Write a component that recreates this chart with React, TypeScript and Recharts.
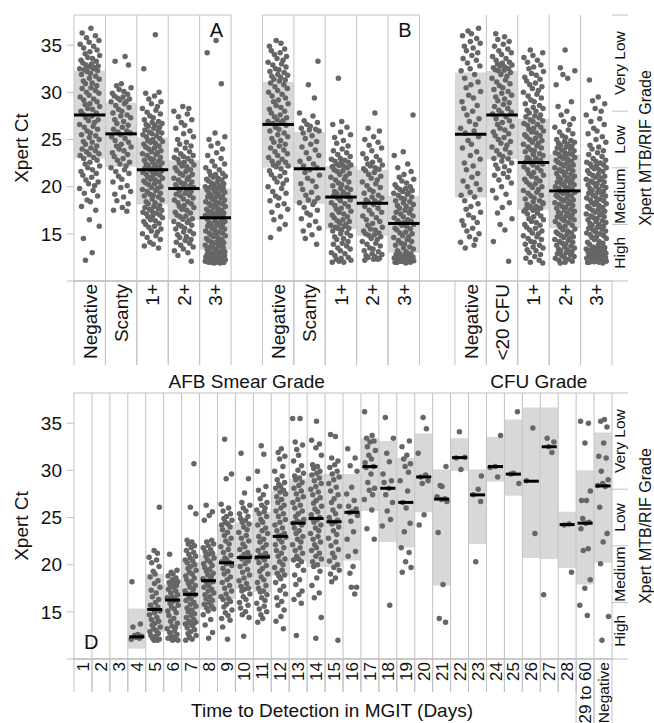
import { ScatterChart, Scatter, XAxis, YAxis, ReferenceArea, ReferenceLine } from 'recharts'

const FONT = '"Liberation Sans", Arial, Helvetica, sans-serif'
const INK = '#111'
const DOT = '#666'
const IQR = '#d8d8d8'
const RULE = '#c2c2c2'

// value axis and Xpert grade bands
const CT_DOMAIN: [number, number] = [10, 38.2]
const CT_TICKS = [15, 20, 25, 30, 35]
const GRADE_BANDS = ['High', 'Medium', 'Low', 'Very Low']
const GRADE_MIDS = [13, 19, 25, 33.1]
const GRADE_CUTS = [16, 22, 28]

// categories
const SMEAR_GRADES = ['Negative', 'Scanty', '1+', '2+', '3+']
const CFU_GRADES = ['Negative', '<20 CFU', '1+', '2+', '3+']
const DAYS = ['1', '2', '3', '4', '5', '6', '7', '8', '9', '10', '11', '12', '13', '14', '15', '16', '17', '18', '19', '20', '21', '22', '23', '24', '25', '26', '27', '28', '29 to 60', 'Negative']

// panel A: AFB smear grade (cohort 1)
const A_Q1 = [23.0, 22.1, 18.1, 16.5, 13.3]
const A_MED = [27.6, 25.6, 21.8, 19.8, 16.7]
const A_Q3 = [32.3, 28.9, 25.2, 22.8, 19.8]
const A_CT = [
  '36.8 36.3 36.0 35.8 35.5 35.3 35.1 34.9 34.7 34.5 34.3 34.1 33.9 33.7 33.6 33.4 33.3 33.1 33.0 32.9 32.8 32.7 32.6 32.5 32.5 32.4 32.3 32.2 32.0 31.9 31.7 31.5 31.4 31.2 31.0 30.9 30.7 30.5 30.4 30.2 30.0 29.9 29.7 29.5 29.3 29.2 29.0 28.8 28.7 28.5 28.3 28.2 28.0 27.8 27.7 27.5 27.3 27.1 27.0 26.8 26.6 26.4 26.3 26.1 25.9 25.7 25.5 25.4 25.2 25.0 24.8 24.7 24.5 24.3 24.1 24.0 23.8 23.7 23.5 23.4 23.3 23.1 23.0 22.8 22.6 22.4 22.2 22.0 21.8 21.6 21.4 21.2 21.0 20.7 20.5 20.3 20.1 19.8 19.6 19.3 19.0 18.6 18.4 17.9 17.5 16.5 15.8 14.5 13.0 12.2',
  '33.8 33.3 32.9 30.9 30.7 30.5 30.3 30.1 29.9 29.8 29.6 29.5 29.4 29.3 29.2 29.0 29.0 28.8 28.6 28.4 28.2 28.0 27.8 27.6 27.5 27.3 27.1 26.9 26.7 26.5 26.3 26.1 25.9 25.8 25.7 25.5 25.3 25.1 24.9 24.7 24.5 24.3 24.2 24.0 23.8 23.6 23.4 23.2 23.0 22.8 22.6 22.4 22.2 22.0 21.8 21.6 21.4 21.1 20.8 20.5 20.1 19.9 19.5 19.2 18.9 18.5 18.2 17.8 17.5 17.4',
  '36.1 32.5 30.0 29.9 29.6 29.3 29.0 28.8 28.5 28.3 28.1 27.9 27.7 27.5 27.3 27.1 26.9 26.8 26.7 26.6 26.5 26.4 26.3 26.2 26.0 25.9 25.8 25.7 25.6 25.5 25.4 25.3 25.1 25.0 24.9 24.8 24.7 24.6 24.5 24.3 24.2 24.1 24.0 23.8 23.7 23.6 23.5 23.4 23.3 23.1 23.0 22.9 22.8 22.7 22.6 22.5 22.4 22.3 22.2 22.1 22.0 21.95 21.9 21.85 21.7 21.6 21.5 21.4 21.3 21.2 21.1 21.0 20.9 20.8 20.7 20.6 20.5 20.4 20.3 20.2 20.0 19.9 19.8 19.7 19.6 19.5 19.3 19.2 19.1 19.0 18.9 18.7 18.6 18.4 18.3 18.2 18.0 17.9 17.8 17.7 17.6 17.5 17.4 17.3 17.2 17.1 17.0 16.9 16.8 16.7 16.5 16.4 16.3 16.1 16.0 15.8 15.7 15.5 15.3 15.2 15.0 14.8 14.6 14.4 14.1 13.9 13.7 13.5',
  '28.5 28.3 28.0 27.7 27.4 27.1 26.8 26.5 26.2 25.9 25.6 25.3 25.0 24.7 24.5 24.3 24.1 23.9 23.7 23.5 23.3 23.2 23.1 23.0 22.9 22.7 22.6 22.5 22.3 22.2 22.1 22.0 21.8 21.7 21.6 21.4 21.3 21.2 21.0 20.9 20.8 20.7 20.5 20.4 20.3 20.2 20.1 20.0 19.9 19.85 19.7 19.6 19.5 19.3 19.2 19.1 19.0 18.8 18.7 18.6 18.4 18.3 18.2 18.0 17.9 17.8 17.6 17.5 17.3 17.2 17.0 16.9 16.8 16.6 16.55 16.4 16.3 16.2 16.0 15.9 15.8 15.6 15.5 15.3 15.2 15.0 14.9 14.7 14.6 14.4 14.3 14.1 14.0 13.8 13.6 13.4 13.2 13.0 12.7 12.1',
  '35.5 34.2 30.9 25.7 25.3 25.0 24.6 24.3 24.0 23.6 23.3 23.0 22.7 22.4 22.2 22.0 21.8 21.6 21.4 21.3 21.2 21.1 21.0 20.9 20.8 20.7 20.6 20.5 20.4 20.3 20.2 20.1 20.0 19.95 19.9 19.85 19.8 19.7 19.65 19.6 19.5 19.4 19.3 19.2 19.1 19.0 18.95 18.9 18.8 18.7 18.6 18.5 18.4 18.3 18.2 18.15 18.1 18.0 17.9 17.8 17.7 17.6 17.5 17.4 17.35 17.3 17.2 17.1 17.0 16.95 16.9 16.85 16.8 16.75 16.7 16.6 16.5 16.4 16.3 16.2 16.1 16.05 16.0 15.9 15.8 15.7 15.6 15.5 15.4 15.3 15.2 15.1 15.05 15.0 14.9 14.8 14.7 14.6 14.5 14.4 14.3 14.2 14.1 14.05 14.0 13.9 13.8 13.7 13.6 13.55 13.5 13.4 13.35 13.2 13.15 13.1 13.05 13.0 12.95 12.9 12.85 12.8 12.75 12.7 12.65 12.6 12.55 12.5 12.45 12.4 12.35 12.3 12.25 12.2 12.15 12.1 12.05 12.0 12.0 11.95 11.95 11.9 11.9 12.1 12.2 12.3 12.0 12.4 12.6 12.8',
]

// panel B: AFB smear grade (cohort 2)
const B_Q1 = [22.0, 18.2, 15.5, 14.8, 13.0]
const B_MED = [26.6, 21.9, 18.9, 18.25, 16.1]
const B_Q3 = [31.1, 25.8, 22.2, 21.8, 19.0]
const B_CT = [
  '35.5 35.2 34.9 34.6 34.4 34.2 34.0 33.8 33.6 33.4 33.2 33.0 32.9 32.7 32.5 32.4 32.2 32.1 31.9 31.8 31.7 31.6 31.4 31.3 31.2 31.0 30.8 30.6 30.4 30.2 30.0 29.8 29.6 29.4 29.2 29.0 28.8 28.6 28.4 28.2 28.0 27.8 27.6 27.4 27.3 27.1 27.0 26.9 26.8 26.7 26.5 26.3 26.1 25.9 25.7 25.5 25.3 25.1 24.9 24.7 24.5 24.3 24.1 23.9 23.7 23.5 23.3 23.1 22.9 22.7 22.6 22.5 22.3 22.2 22.1 21.9 21.7 21.5 21.3 21.1 20.9 20.7 20.5 20.3 20.0 19.8 19.5 19.3 19.0 18.8 18.5 18.2 18.0 17.6 17.3 16.8 16.5 16.0 15.5 14.6',
  '33.3 30.8 29.4 27.8 27.5 27.0 26.8 26.6 26.4 26.2 26.1 26.0 25.9 25.7 25.4 25.1 24.8 24.5 24.2 23.9 23.6 23.3 23.0 22.7 22.4 22.2 22.0 21.8 21.5 21.2 20.9 20.6 20.3 20.0 19.7 19.4 19.1 18.8 18.6 18.4 18.3 18.1 17.8 17.5 17.2 17.0 16.6 16.3 15.9 15.6 15.3 14.9 14.5 13.9',
  '31.5 26.9 26.6 26.3 25.8 25.5 25.2 24.9 24.6 24.3 24.0 23.8 23.6 23.4 23.2 23.0 22.9 22.8 22.7 22.6 22.5 22.4 22.3 22.25 22.2 22.1 22.0 21.8 21.7 21.6 21.4 21.3 21.1 21.0 20.8 20.7 20.5 20.4 20.2 20.1 19.9 19.8 19.7 19.5 19.4 19.3 19.2 19.1 19.0 18.95 18.8 18.6 18.5 18.3 18.2 18.0 17.9 17.7 17.6 17.4 17.3 17.1 17.0 16.8 16.7 16.5 16.4 16.3 16.1 16.0 15.9 15.8 15.7 15.6 15.55 15.4 15.3 15.1 15.0 14.8 14.7 14.5 14.4 14.2 14.0 13.9 13.7 13.5 13.4 13.2 13.0 12.9 12.7 12.5 12.4 12.3 12.2 12.1 12.0 12.0',
  '27.8 26.2 25.9 25.3 25.0 24.7 24.4 24.1 23.8 23.5 23.2 23.0 22.8 22.6 22.4 22.3 22.2 22.0 21.9 21.85 21.7 21.5 21.3 21.1 20.9 20.7 20.5 20.3 20.1 19.9 19.7 19.5 19.3 19.1 18.9 18.8 18.6 18.5 18.4 18.3 18.1 17.9 17.7 17.5 17.3 17.1 16.9 16.7 16.5 16.3 16.1 15.9 15.7 15.5 15.4 15.3 15.1 15.0 14.9 14.85 14.7 14.5 14.4 14.2 14.0 13.9 13.7 13.5 13.4 13.2 13.1 12.9 12.8 12.7 12.6 12.5 12.4 12.3 12.2 12.3',
  '27.6 23.7 23.3 22.4 22.0 21.6 21.3 21.0 20.8 20.6 20.4 20.2 20.0 19.9 19.8 19.7 19.6 19.5 19.4 19.3 19.2 19.1 18.9 18.8 18.7 18.5 18.4 18.3 18.1 18.0 17.9 17.7 17.6 17.5 17.3 17.2 17.1 16.9 16.8 16.7 16.5 16.4 16.3 16.2 16.15 16.0 15.9 15.8 15.6 15.5 15.4 15.2 15.1 15.0 14.8 14.7 14.6 14.4 14.3 14.2 14.0 13.9 13.8 13.6 13.5 13.4 13.2 13.1 12.95 12.9 12.85 12.8 12.7 12.6 12.55 12.5 12.45 12.4 12.35 12.3 12.25 12.2 12.15 12.1 12.05 12.0 12.0 11.95 11.9 12.1',
]

// panel C: CFU grade
const C_Q1 = [18.85, 22.9, 17.55, 15.6, 13.65]
const C_MED = [25.55, 27.6, 22.55, 19.55, 17.65]
const C_Q3 = [32.1, 32.25, 27.2, 23.4, 21.5]
const C_CT = [
  '36.8 36.5 36.2 36.0 35.7 35.4 35.2 34.9 34.7 34.4 34.2 33.9 33.6 33.4 33.1 32.8 32.5 32.3 31.9 31.5 31.1 30.8 30.5 30.1 29.7 29.4 29.0 28.6 28.3 28.0 27.6 27.2 26.9 26.6 26.2 25.9 25.7 25.3 24.9 24.5 24.1 23.7 23.3 22.9 22.5 22.2 21.8 21.4 21.0 20.6 20.3 20.0 19.7 19.4 19.1 18.9 18.5 18.2 17.9 17.6 17.3 17.0 16.7 16.4 16.2 15.9 15.6 15.3 15.0 14.7 14.4 14.1 13.8 13.5',
  '36.2 35.9 35.6 35.4 35.1 34.9 34.6 34.4 34.2 34.0 33.8 33.6 33.4 33.2 33.1 33.0 32.9 32.8 32.7 32.6 32.5 32.4 32.35 32.3 32.1 31.9 31.7 31.5 31.3 31.1 30.9 30.7 30.5 30.3 30.1 29.9 29.7 29.5 29.3 29.1 28.9 28.7 28.5 28.3 28.1 27.9 27.8 27.7 27.4 27.2 27.0 26.8 26.6 26.4 26.2 26.0 25.8 25.6 25.4 25.2 25.0 24.8 24.6 24.4 24.2 24.0 23.8 23.6 23.4 23.2 23.0 22.95 22.7 22.5 22.3 22.1 21.9 21.7 21.4 21.2 21.0 20.7 20.4 20.0 19.6 19.2 18.8 18.3 17.8 17.2 16.6 16.0 15.4 14.2 12.1',
  '34.5 34.2 33.9 33.7 33.4 33.2 32.9 32.7 32.5 32.2 32.0 31.8 31.6 31.4 31.2 31.0 30.8 30.6 30.4 30.2 30.0 29.8 29.6 29.4 29.2 29.0 28.8 28.6 28.4 28.3 28.1 28.0 27.8 27.6 27.5 27.4 27.3 27.1 27.0 26.9 26.7 26.6 26.5 26.3 26.2 26.1 25.9 25.8 25.7 25.5 25.4 25.3 25.1 25.0 24.9 24.7 24.6 24.5 24.3 24.2 24.1 23.9 23.8 23.7 23.5 23.4 23.3 23.1 23.0 22.9 22.8 22.7 22.65 22.6 22.6 22.4 22.3 22.1 22.0 21.8 21.7 21.5 21.4 21.2 21.1 20.9 20.8 20.6 20.5 20.3 20.2 20.0 19.9 19.7 19.6 19.4 19.3 19.1 19.0 18.8 18.7 18.5 18.4 18.2 18.1 17.9 17.8 17.7 17.6 17.6 17.7 17.9 18.3 17.5 17.4 17.2 17.1 16.9 16.8 16.6 16.5 16.3 16.2 16.0 15.9 15.7 15.6 15.4 15.3 15.1 15.0 14.8 14.7 14.5 14.4 14.2 14.1 13.9 13.8 13.6 13.5 13.3 13.2 13.0 12.8 12.6 12.4 12.2 12.0 11.9',
  '34.5 32.6 32.3 31.9 31.5 30.8 29.0 28.5 28.0 27.6 27.2 26.9 26.6 26.3 26.0 25.8 25.6 25.4 25.2 25.0 24.9 24.8 24.7 24.6 24.5 24.4 24.3 24.2 24.1 24.0 23.9 23.8 23.7 23.6 23.5 23.45 23.4 23.3 23.2 23.1 23.0 22.9 22.8 22.7 22.6 22.5 22.4 22.3 22.2 22.1 22.0 21.9 21.8 21.7 21.6 21.5 21.4 21.3 21.2 21.1 21.0 20.9 20.8 20.7 20.6 20.5 20.4 20.3 20.2 20.1 20.0 19.9 19.8 19.7 19.6 19.5 19.4 19.3 19.2 19.1 19.0 18.9 18.8 18.7 18.6 18.5 18.4 18.3 18.2 18.1 18.0 17.9 17.8 17.7 17.6 17.5 17.4 17.3 17.2 17.1 17.0 16.9 16.8 16.7 16.6 16.5 16.4 16.3 16.2 16.0 15.9 15.8 15.7 15.5 15.4 15.3 15.2 15.1 15.0 14.9 14.8 14.7 14.6 14.5 14.4 14.3 14.2 14.1 14.0 13.9 13.8 13.7 13.6 13.5 13.4 13.3 13.2 13.1 13.0 12.9 12.8 12.7 12.6 12.5 12.4 12.3 12.2 12.1 12.0 11.9',
  '31.3 29.5 29.1 28.8 28.3 28.0 27.6 27.2 26.9 26.6 26.2 25.9 25.6 25.3 25.0 24.7 24.4 24.2 24.0 23.8 23.6 23.4 23.2 23.0 22.8 22.7 22.6 22.5 22.4 22.3 22.2 22.1 22.0 21.9 21.8 21.7 21.6 21.4 21.3 21.2 21.1 21.0 20.9 20.8 20.7 20.6 20.5 20.4 20.3 20.2 20.1 20.0 19.9 19.8 19.7 19.6 19.5 19.4 19.3 19.2 19.1 19.0 18.9 18.8 18.7 18.6 18.5 18.4 18.3 18.2 18.1 18.0 17.9 17.8 17.7 17.6 17.5 17.4 17.3 17.2 17.1 17.0 16.9 16.8 16.7 16.6 16.5 16.4 16.3 16.2 16.1 16.0 15.9 15.8 15.7 15.6 15.5 15.4 15.3 15.2 15.1 15.0 14.9 14.8 14.7 14.6 14.5 14.4 14.2 14.1 14.0 13.9 13.8 13.6 13.55 13.5 13.45 13.4 13.35 13.3 13.25 13.2 13.15 13.1 13.05 13.0 12.95 12.9 12.85 12.8 12.75 12.7 12.65 12.6 12.55 12.5 12.45 12.4 12.35 12.3 12.25 12.2 12.15 12.1 12.05 12.0 11.95 11.9 12.0 12.1',
]

// panel D: time to detection in MGIT (days 1-28, 29 to 60, negative)
const D_Q1 = [null, null, null, 11.1, 12.9, 13.2, 13.7, 15.25, 16.35, 17.45, 17.1, 18.85, 20.4, 19.75, 19.75, 20.45, 25.7, 22.4, 21.85, 25.55, 17.8, 29.95, 22.2, 28.8, 27.3, 20.7, 20.6, 19.65, 17.9, 20.2]
const D_MED = [null, null, null, 12.35, 15.25, 16.25, 16.85, 18.3, 20.2, 20.75, 20.8, 23.0, 24.4, 24.9, 24.55, 25.55, 30.4, 28.1, 26.6, 29.3, 26.95, 31.35, 27.4, 30.4, 29.6, 28.85, 32.5, 24.25, 24.4, 28.35]
const D_Q3 = [null, null, null, 15.35, 19.05, 17.9, 20.35, 21.1, 24.25, 24.5, 25.6, 27.8, 29.1, 29.6, 29.6, 29.6, 33.4, 33.1, 31.3, 33.9, 30.1, 33.4, 30.1, 33.55, 35.4, 36.65, 36.65, 25.6, 30.0, 34.0]
const D_CT = [
  '', '', '',
  '18.2 13.7 13.4 12.6 12.5 12.4 12.3 12.2 12.1',
  '26.1 21.5 21.2 20.8 20.5 20.2 19.8 19.3 19.0 18.7 18.3 18.0 17.6 17.3 17.0 16.6 16.3 16.0 15.7 15.5 15.3 15.1 14.9 14.7 14.4 14.2 14.0 13.8 13.6 13.4 13.2 13.0 12.9 12.7 12.5 12.4 12.2 12.1 12.0 12.0',
  '21.1 19.4 19.2 19.0 18.8 18.6 18.4 18.2 18.1 18.0 17.9 17.8 17.6 17.4 17.2 17.0 16.8 16.6 16.5 16.4 16.3 16.2 16.1 15.9 15.7 15.5 15.3 15.1 14.9 14.6 14.3 14.0 13.8 13.5 13.3 13.2 13.0 12.8 12.6 12.5 12.3 12.2 12.1 12.0 12.0',
  '30.7 26.1 25.4 22.6 22.4 22.2 22.0 21.8 21.5 21.3 21.1 20.9 20.7 20.5 20.4 20.2 20.0 19.8 19.6 19.4 19.2 19.0 18.8 18.6 18.4 18.2 18.0 17.8 17.6 17.4 17.2 17.0 16.9 16.8 16.6 16.4 16.2 16.0 15.8 15.6 15.4 15.2 15.0 14.8 14.6 14.4 14.2 14.0 13.9 13.8 13.7 13.5 13.3 13.1 12.9 12.7 12.5 12.3 12.1 12.0',
  '26.3 25.6 25.2 24.7 22.6 22.4 22.2 22.0 21.8 21.6 21.4 21.2 21.1 20.9 20.7 20.5 20.3 20.1 19.9 19.7 19.5 19.3 19.1 18.9 18.7 18.5 18.4 18.3 18.2 18.0 17.8 17.6 17.4 17.2 17.0 16.8 16.6 16.4 16.2 16.0 15.8 15.6 15.4 15.3 15.1 14.7 14.2 13.6 12.8 12.2',
  '33.3 29.6 29.1 26.4 26.0 25.7 25.4 25.1 24.9 24.7 24.5 24.3 24.2 24.0 23.7 23.4 23.1 22.8 22.5 22.2 21.9 21.6 21.3 21.0 20.7 20.5 20.3 20.2 20.1 19.9 19.6 19.3 19.0 18.7 18.4 18.1 17.8 17.5 17.2 16.9 16.6 16.4 16.3 16.1 15.8 15.5 15.2 14.9 14.6 14.3 14.1 13.4 12.1',
  '31.8 29.1 27.6 26.6 26.3 26.0 25.7 25.4 25.1 24.9 24.7 24.5 24.3 24.0 23.7 23.4 23.1 22.8 22.5 22.2 21.9 21.6 21.3 21.1 20.9 20.8 20.7 20.6 20.4 20.1 19.8 19.5 19.2 18.9 18.6 18.3 18.0 17.7 17.5 17.4 17.2 16.9 16.6 16.3 16.0 15.7 15.4 15.0 14.7 14.4 12.4',
  '32.6 31.7 29.9 28.3 27.9 27.4 27.0 26.6 26.3 26.0 25.8 25.6 25.4 25.1 24.8 24.5 24.2 23.9 23.6 23.3 23.0 22.7 22.4 22.1 21.8 21.5 21.2 21.0 20.9 20.8 20.7 20.5 20.2 19.9 19.6 19.3 19.0 18.7 18.4 18.1 17.8 17.5 17.2 17.1 16.8 16.5 16.2 15.9 15.6 15.3 15.0 14.7 14.3 13.9',
  '32.3 31.9 31.5 31.2 30.4 29.9 29.4 29.0 28.7 28.5 28.3 28.1 27.9 27.7 27.5 27.2 26.9 26.6 26.3 26.0 25.7 25.4 25.1 24.8 24.5 24.2 23.9 23.6 23.3 23.1 23.0 22.9 22.7 22.4 22.1 21.8 21.5 21.2 20.9 20.6 20.3 20.0 19.7 19.4 19.1 18.9 18.8 18.5 18.1 17.7 17.3 16.9 16.5 16.1 15.7 15.2 14.5 14.0 13.2',
  '35.5 35.5 33.0 32.7 32.2 31.6 31.0 30.5 30.0 29.7 29.4 29.2 29.0 28.7 28.4 28.1 27.8 27.5 27.2 26.9 26.6 26.3 26.0 25.7 25.4 25.1 24.8 24.6 24.5 24.4 24.2 23.9 23.6 23.3 23.0 22.7 22.4 22.1 21.8 21.5 21.2 20.9 20.6 20.5 20.3 19.9 19.4 18.9 18.4 17.9 17.2 16.8 16.3 15.9 12.5',
  '35.2 33.2 32.8 32.4 31.6 30.6 30.4 30.2 29.9 29.7 29.5 29.2 28.9 28.6 28.3 28.0 27.7 27.4 27.1 26.8 26.5 26.2 25.9 25.6 25.3 25.0 24.9 24.8 24.5 24.2 23.9 23.6 23.3 23.0 22.7 22.4 22.1 21.8 21.5 21.2 20.9 20.6 20.3 20.0 19.8 19.3 18.6 17.8 17.0 16.5 14.4 12.2',
  '33.8 33.6 31.3 31.0 30.6 30.3 29.9 29.6 29.3 29.0 28.6 28.2 27.8 27.4 27.0 26.6 26.2 25.8 25.4 25.0 24.7 24.6 24.5 24.3 24.0 23.6 23.2 22.8 22.4 22.0 21.6 21.2 20.8 20.4 20.0 19.7 19.4 19.0 18.6 18.2 12.0',
  '32.3 31.3 30.5 29.9 28.2 27.5 26.8 26.2 25.9 25.6 25.5 25.2 24.6 23.5 22.7 21.4 20.9 19.8 19.1 17.6 17.6 16.9',
  '36.2 33.7 33.4 33.1 33.0 32.5 32.1 31.6 31.2 30.8 30.4 30.3 29.6 28.7 28.1 27.9 27.4 26.9 25.8 23.8 22.7',
  '35.6 33.4 31.8 30.9 29.6 28.9 28.7 28.1 27.4 26.6 25.7 24.8 24.1 15.7',
  '33.1 32.5 31.6 31.2 30.7 30.4 29.8 28.9 27.8 26.6 24.4 23.5 26.0 21.8 21.3 20.3 19.7 19.2',
  '35.6 34.4 31.8 29.5 29.3 28.9 28.6 25.3 24.2',
  '30.4 28.4 28.3 27.2 27.0 26.9 26.7 23.4 17.9 14.3 13.9',
  '34.1 31.4 31.3 30.1',
  '29.4 28.0 27.4 26.7 20.3',
  '33.7 30.4 30.3 29.3',
  '36.2 29.7 29.6 28.6',
  '34.5 28.9 23.3',
  '33.4 33.0 32.5 31.9 16.8',
  '24.3 24.2 19.2',
  '35.2 35.0 32.9 27.8 26.8 26.8 24.9 24.5 24.4 23.8 21.7 21.5 18.4 17.5 15.7 14.6',
  '35.4 35.2 34.6 32.9 31.5 31.3 29.9 29.0 28.6 28.4 28.3 26.1 23.3 22.4 20.1 14.5 12.0',
]

// fixed horizontal spread pattern for the jittered dots (fraction of half a column)
const JITTER = [0.12, -0.73, 0.55, -0.31, 0.89, -0.05, -0.92, 0.38, -0.58, 0.71, 0.02, -0.44, 0.96, -0.19, 0.27, -0.84, 0.63, -0.66, 0.19, -0.36, 0.81, -0.11, 0.47, -0.97, 0.33, -0.52, 0.76, -0.25, 0.07, -0.79, 0.58, -0.03, 0.92, -0.61, 0.24, -0.41, 0.68]

// layout of the top row: panel start offsets in column units
const TOP_OFFSETS = [0, 6, 12.13]
const TOP_MAX = 17.63
const TOP_COL_PX = 538 / (TOP_MAX - 0.5)
const D_COL_PX = 538 / 30

const spread = (list: string, centre: number, amp: number, seed: number) =>
  list.trim().split(/\s+/).filter(Boolean).map((s, j) => ({
    x: centre + JITTER[(j + seed) % JITTER.length] * amp,
    y: Number(s),
  }))

const TOP_PANELS = [
  { ct: A_CT, q1: A_Q1, med: A_MED, q3: A_Q3, labels: SMEAR_GRADES, letter: 'A' },
  { ct: B_CT, q1: B_Q1, med: B_MED, q3: B_Q3, labels: SMEAR_GRADES, letter: 'B' },
  { ct: C_CT, q1: C_Q1, med: C_MED, q3: C_Q3, labels: CFU_GRADES, letter: 'C' },
]
const TOP_TICKS = TOP_OFFSETS.flatMap(o => [1, 2, 3, 4, 5].map(i => o + i))
const TOP_LABELS = TOP_PANELS.flatMap(p => p.labels)
const TOP_POINTS = TOP_PANELS.flatMap((p, k) =>
  p.ct.flatMap((s, i) => spread(s, TOP_OFFSETS[k] + i + 1, 0.33, i * 7 + k * 13)))
const D_TICKS = DAYS.map((_, i) => i + 1)
const D_POINTS = D_CT.flatMap((s, i) => spread(s, i + 1, 0.32, i * 5))

const dot = (p: any) => <circle cx={p.cx} cy={p.cy} r={2.75} fill={DOT} />

function CatTick({ x, y, index, labels, colPx, fontSize, lineH }: any) {
  const half = colPx / 2
  const h = lineH(index)
  const fs = typeof fontSize === 'function' ? fontSize(index) : fontSize
  return (
    <g>
      <line x1={x - half} x2={x - half} y1={y} y2={y + h} stroke={RULE} />
      <line x1={x + half} x2={x + half} y1={y} y2={y + h} stroke={RULE} />
      <text transform={`translate(${x + fs * 0.36},${y + 3}) rotate(-90)`} textAnchor="end"
        fontSize={fs} fontFamily={FONT} fill={INK}>{labels[index]}</text>
    </g>
  )
}

function TitleTick({ x, y, index, labels, dy }: any) {
  return <text x={x} y={y + dy} textAnchor="middle" fontSize={19} fontFamily={FONT} fill={INK}>{labels[index]}</text>
}

function GradeTick({ x, y, payload }: any) {
  const v = payload.value
  if (GRADE_CUTS.includes(v)) return <line x1={x} x2={x + 16} y1={y} y2={y} stroke={RULE} />
  return (
    <text transform={`translate(${x + 13},${y}) rotate(-90)`} textAnchor="middle" fontSize={15.5}
      fontFamily={FONT} fill={INK}>{GRADE_BANDS[GRADE_MIDS.indexOf(v)]}</text>
  )
}

const axisText = { fontSize: 19, fill: INK, fontFamily: FONT }

function leftAxis() {
  return (
    <YAxis dataKey="y" type="number" domain={CT_DOMAIN} allowDataOverflow ticks={CT_TICKS} width={74}
      tick={axisText} tickSize={7} tickMargin={5} tickLine={{ stroke: RULE }} axisLine={false}
      label={{ value: 'Xpert Ct', angle: -90, position: 'insideLeft', offset: 21, style: { ...axisText, textAnchor: 'middle' } }} />
  )
}

function rightAxis() {
  return (
    <YAxis yAxisId="grade" orientation="right" type="number" domain={CT_DOMAIN} allowDataOverflow
      ticks={[13, 16, 19, 22, 25, 28, 33.1]} interval={0} width={42} tickSize={0} tickMargin={0}
      tick={GradeTick} axisLine={false} tickLine={false}
      label={{ value: 'Xpert MTB/RIF Grade', angle: -90, position: 'insideRight', offset: 9, style: { fontSize: 16, fill: INK, fontFamily: FONT, textAnchor: 'middle' } }} />
  )
}

export default function App() {
  return (
    <div style={{ position: 'absolute', left: 0, top: 0, width: 654, height: 723, background: '#fff' }}>
      <div style={{ position: 'absolute', left: 0, top: 0 }}>
        <ScatterChart width={654} height={393} margin={{ top: 15, right: 0, bottom: 0, left: 0 }}>
          <XAxis dataKey="x" type="number" domain={[0.5, TOP_MAX]} allowDataOverflow ticks={TOP_TICKS} interval={0}
            height={84} tickSize={0} tickMargin={0} axisLine={{ stroke: RULE }}
            tick={(p: any) => <CatTick {...p} labels={TOP_LABELS} colPx={TOP_COL_PX} fontSize={19} lineH={() => 84} />} />
          <XAxis xAxisId="grp" dataKey="x" type="number" domain={[0.5, TOP_MAX]} allowDataOverflow ticks={[6, 15.3]}
            interval={0} height={28} tickSize={0} tickMargin={0} axisLine={false} tickLine={false}
            tick={(p: any) => <TitleTick {...p} labels={['AFB Smear Grade', 'CFU Grade']} dy={23} />} />
          {leftAxis()}
          {rightAxis()}
          {TOP_PANELS.map((p, k) => p.q1.map((q, i) => (
            <ReferenceArea key={`box${k}${i}`} x1={TOP_OFFSETS[k] + i + 0.5} x2={TOP_OFFSETS[k] + i + 1.5}
              y1={q} y2={p.q3[i]} fill={IQR} fillOpacity={1} stroke="none" zIndex={100} />
          )))}
          {TOP_OFFSETS.map((o, k) => [1.5, 2.5, 3.5, 4.5].map(d => (
            <ReferenceLine key={`sep${k}${d}`} x={o + d} stroke={RULE} zIndex={150} />
          )))}
          {TOP_PANELS.map((p, k) => (
            <ReferenceArea key={`frame${k}`} x1={TOP_OFFSETS[k] + 0.5} x2={TOP_OFFSETS[k] + 5.5} y1={CT_DOMAIN[0]} y2={CT_DOMAIN[1]}
              fill="none" fillOpacity={0} stroke={RULE} zIndex={160}
              label={{ value: p.letter, position: 'insideTopRight', offset: 8, style: { fontSize: 20, fill: INK, fontFamily: FONT } }} />
          ))}
          <ReferenceLine segment={[{ x: 0.28, y: CT_DOMAIN[0] }, { x: TOP_MAX + 0.51, y: CT_DOMAIN[0] }]} stroke={RULE} ifOverflow="visible" zIndex={160} />
          <ReferenceLine segment={[{ x: TOP_MAX, y: CT_DOMAIN[1] }, { x: TOP_MAX + 0.51, y: CT_DOMAIN[1] }]} stroke={RULE} ifOverflow="visible" zIndex={160} />
          <Scatter data={TOP_POINTS} shape={dot} isAnimationActive={false} zIndex={600} />
          {TOP_PANELS.map((p, k) => p.med.map((m, i) => (
            <ReferenceLine key={`med${k}${i}`} segment={[{ x: TOP_OFFSETS[k] + i + 0.5, y: m }, { x: TOP_OFFSETS[k] + i + 1.5, y: m }]}
              stroke="#000" strokeWidth={3} zIndex={700} />
          )))}
        </ScatterChart>
      </div>
      <div style={{ position: 'absolute', left: 0, top: 383 }}>
        <ScatterChart width={654} height={340} margin={{ top: 10, right: 0, bottom: 0, left: 0 }}>
          <XAxis dataKey="x" type="number" domain={[0.5, 30.5]} allowDataOverflow ticks={D_TICKS} interval={0}
            height={33} tickSize={0} tickMargin={0} axisLine={{ stroke: RULE }}
            tick={(p: any) => <CatTick {...p} labels={DAYS} colPx={D_COL_PX} fontSize={(i: number) => (i === 29 ? 15.5 : 17)}
              lineH={(i: number) => (i >= 28 ? 64 : 33)} />} />
          <XAxis xAxisId="ttl" dataKey="x" type="number" domain={[0.5, 30.5]} allowDataOverflow ticks={[14.89]}
            interval={0} height={31} tickSize={0} tickMargin={0} axisLine={false} tickLine={false}
            tick={(p: any) => <TitleTick {...p} labels={['Time to Detection in MGIT (Days)']} dy={25} />} />
          {leftAxis()}
          {rightAxis()}
          {D_Q1.map((q, i) => q == null ? null : (
            <ReferenceArea key={`dbox${i}`} x1={i + 0.5} x2={i + 1.5} y1={q} y2={D_Q3[i] as number}
              fill={IQR} fillOpacity={1} stroke="none" zIndex={100} />
          ))}
          {D_TICKS.slice(0, -1).map(t => (
            <ReferenceLine key={`dsep${t}`} x={t + 0.5} stroke={RULE} zIndex={150} />
          ))}
          <ReferenceArea x1={0.5} x2={30.5} y1={CT_DOMAIN[0]} y2={CT_DOMAIN[1]} fill="none" fillOpacity={0} stroke={RULE} zIndex={160}
            label={{ value: 'D', position: 'insideBottomLeft', offset: 10, style: { fontSize: 20, fill: INK, fontFamily: FONT } }} />
          <ReferenceLine segment={[{ x: 0.1, y: CT_DOMAIN[0] }, { x: 31.4, y: CT_DOMAIN[0] }]} stroke={RULE} ifOverflow="visible" zIndex={160} />
          <ReferenceLine segment={[{ x: 30.5, y: CT_DOMAIN[1] }, { x: 31.4, y: CT_DOMAIN[1] }]} stroke={RULE} ifOverflow="visible" zIndex={160} />
          <Scatter data={D_POINTS} shape={dot} isAnimationActive={false} zIndex={600} />
          {D_MED.map((m, i) => m == null ? null : (
            <ReferenceLine key={`dmed${i}`} segment={[{ x: i + 0.58, y: m }, { x: i + 1.42, y: m }]}
              stroke="#000" strokeWidth={3} zIndex={700} />
          ))}
        </ScatterChart>
      </div>
    </div>
  )
}
